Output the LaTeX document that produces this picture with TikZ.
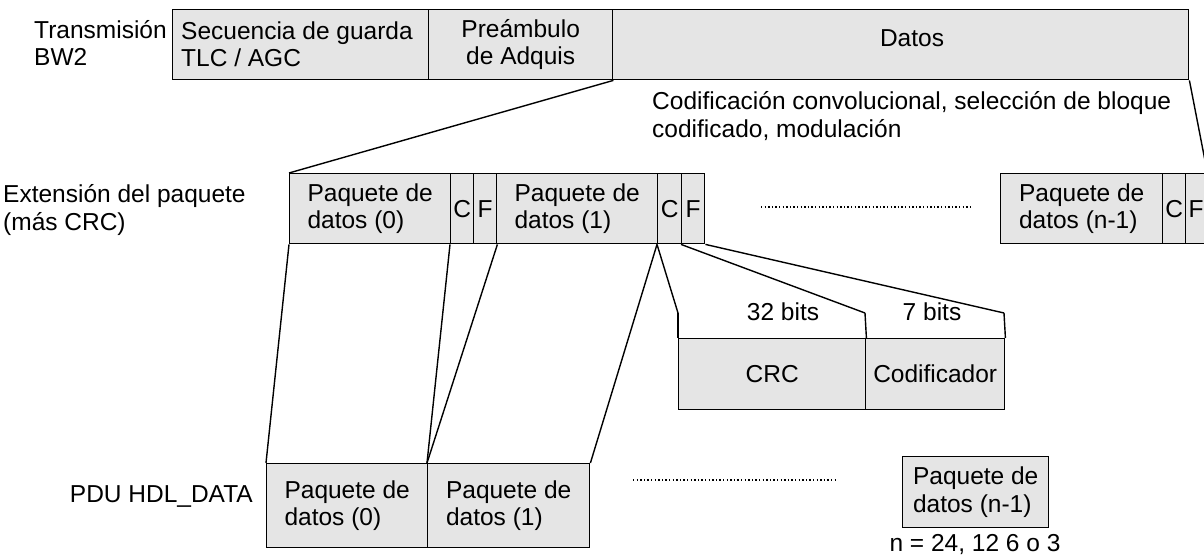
\documentclass[tikz,border=0pt]{standalone}
\usepackage{fontspec}
\setmainfont{Liberation Sans}
\definecolor{cellgray}{RGB}{229,229,229}
\newcommand\fsz{\fontsize{24.5}{27.5}\selectfont}
\begin{document}
\begin{tikzpicture}[x=1pt,y=-1pt,
  cell/.style={draw, fill=cellgray, line width=1.4pt, inner sep=0pt, font=\fsz, align=left, anchor=north west},
  lbl/.style={inner sep=0pt, font=\fsz, align=left},
  conn/.style={line width=1.4pt},
  dotline/.style={line width=1.3pt, dash pattern=on 1.3pt off 2.3pt}]
\useasboundingbox (0,0) rectangle (1204,559);
% top row
\node[cell, minimum width=256pt, minimum height=70pt] (seq) at (172,9) {};
\node[lbl, anchor=west] (seqT) at (181,44) {Secuencia de guarda\\TLC / AGC};
\node[cell, minimum width=184pt, minimum height=70pt, align=center] (pre) at (428,9) {Preámbulo\\de Adquis};
\node[cell, minimum width=576pt, minimum height=70pt] (dat) at (612,9) {};
\node[lbl] (datT) at (912,38) {Datos};
\node[lbl, anchor=west] (trans) at (34,43) {Transmisión\\BW2};
\node[lbl, anchor=west] (cod) at (652,116) {Codificación convolucional, selección de bloque\\codificado, modulación};
% second row
\node[lbl, anchor=west] (ext) at (3,210) {Extensión del paquete\\(más CRC)};
\node[cell, minimum width=161pt, minimum height=70pt] (p0) at (289,173) {Paquete de\\datos (0)};
\node[cell, minimum width=23pt, minimum height=70pt] (c0) at (450,173) {C};
\node[cell, minimum width=23pt, minimum height=70pt] (f0) at (473,173) {F};
\node[cell, minimum width=161pt, minimum height=70pt] (p1) at (496,173) {Paquete de\\datos (1)};
\node[cell, minimum width=24pt, minimum height=70pt] (c1) at (657,173) {C};
\node[cell, minimum width=23pt, minimum height=70pt] (f1) at (681,173) {F};
\node[cell, minimum width=162pt, minimum height=70pt] (pn) at (1000,173) {Paquete de\\datos (n-1)};
\node[cell, minimum width=23pt, minimum height=70pt] (cn) at (1162,173) {C};
\node[cell, minimum width=21pt, minimum height=70pt] (fn) at (1185,173) {F};
\coordinate (d1a) at (761,207);
\coordinate (d1b) at (970,207);
\draw[dotline] (d1a) -- (d1b);
% CRC detail
\node[cell, minimum width=187pt, minimum height=71pt, align=center] (crc) at (678,338) {CRC};
\node[cell, minimum width=139pt, minimum height=71pt, align=center] (enc) at (865,338) {Codificador};
\coordinate (t1) at (678,313);
\coordinate (t2) at (865,313);
\coordinate (t3) at (1004,313);
\draw[conn] (t1) -- (crc.north west);
\draw[conn] (t2) -- (crc.north east);
\draw[conn] (t3) -- (enc.north east);
\node[lbl] (b32) at (783,312) {32 bits};
\node[lbl] (b7) at (932,312) {7 bits};
% bottom row
\node[lbl, anchor=east] (pdu) at (253,497) {PDU HDL\_DATA};
\node[cell, minimum width=161pt, minimum height=84pt] (q0) at (266,463) {Paquete de\\datos (0)};
\node[cell, minimum width=162pt, minimum height=84pt] (q1) at (427,463) {Paquete de\\datos (1)};
\node[cell, minimum width=146pt, minimum height=71pt] (qn) at (902,456) {Paquete de\\datos (n-1)};
\node[lbl] (nval) at (975,545) {n = 24, 12 6 o 3};
\coordinate (d2a) at (633,480);
\coordinate (d2b) at (838,480);
\draw[dotline] (d2a) -- (d2b);
% connectors
\draw[conn] (pre.south east) -- (p0.north west);
\draw[conn] (dat.south east) -- (fn.north east);
\draw[conn] (c1.south west) -- (t1);
\draw[conn] (f1.south west) -- (t2);
\draw[conn] (f1.south east) -- (t3);
\draw[conn] (p0.south west) -- (q0.north west);
\draw[conn] (c0.south west) -- (q1.north west);
\draw[conn] (f0.south east) -- (q1.north west);
\draw[conn] (c1.south west) -- (q1.north east);
\end{tikzpicture}
\end{document}
